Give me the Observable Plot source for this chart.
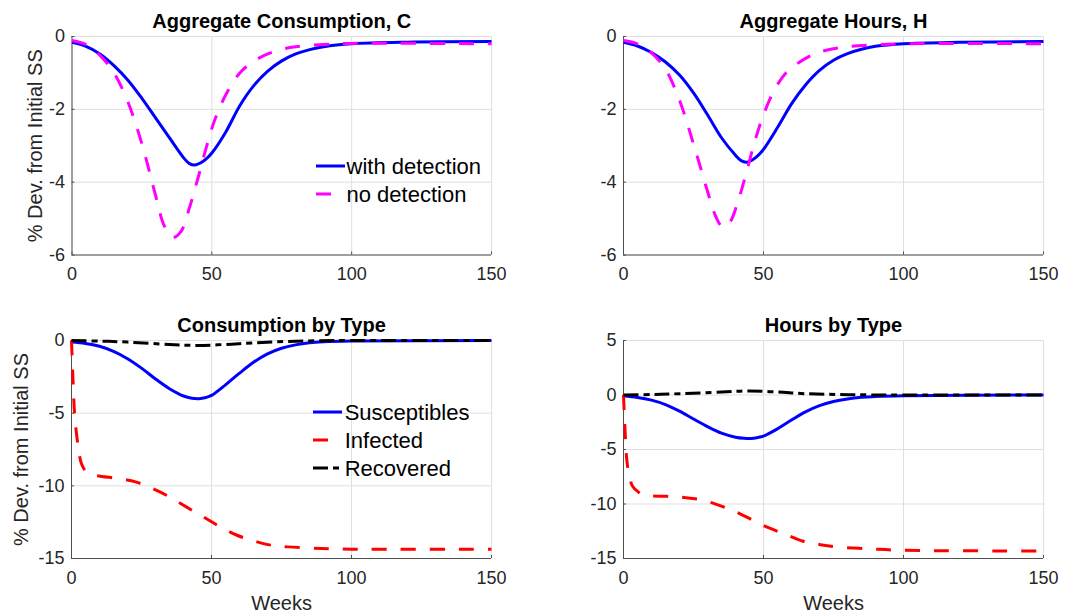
<!DOCTYPE html>
<html><head><meta charset="utf-8">
<script src="https://cdn.jsdelivr.net/npm/d3@7"></script>
<script src="https://cdn.jsdelivr.net/npm/@observablehq/plot@0.6"></script>
<style>
body{margin:0;background:#fff;}
#chart{position:relative;width:1065px;height:615px;font-family:"Liberation Sans",Arial,Helvetica,sans-serif;overflow:hidden;}
.panel{position:absolute;}
.panel svg{max-width:none !important;}
.legend{position:absolute;}
</style></head><body><div id="chart"></div>
<script>
// ---- tick labels / axes ----
const xTicks = [0, 50, 100, 150];
const xDomain = [0, 150];
const aggYTicks = [-6, -4, -2, 0];
const cTypeYTicks = [-15, -10, -5, 0];
const hTypeYTicks = [-15, -10, -5, 0, 5];

// ---- Aggregate Consumption, C ----
const aggCWithWeeks = [0, 5, 10, 15, 20, 25, 30, 35, 40, 42, 44, 46, 48, 50, 55, 60, 65, 70, 75, 80, 85, 90, 100, 120, 150];
const aggCWith = [-0.16, -0.27, -0.48, -0.8, -1.2, -1.7, -2.25, -2.8, -3.34, -3.49, -3.53, -3.47, -3.36, -3.2, -2.62, -1.9, -1.35, -0.95, -0.67, -0.48, -0.36, -0.28, -0.2, -0.155, -0.14];
const aggCNoWeeks = [0, 5, 10, 15, 20, 25, 30, 33, 36, 39, 42, 45, 48, 51, 55, 60, 65, 70, 75, 80, 90, 100, 150];
const aggCNo = [-0.11, -0.22, -0.52, -1.0, -1.8, -2.95, -4.4, -5.2, -5.52, -5.35, -4.7, -3.9, -3.05, -2.3, -1.6, -1.0, -0.68, -0.48, -0.35, -0.28, -0.22, -0.19, -0.2];

// ---- Aggregate Hours, H ----
const aggHWithWeeks = [0, 5, 10, 15, 20, 25, 30, 35, 40, 42, 44, 46, 48, 50, 55, 60, 65, 70, 75, 80, 85, 90, 100, 120, 150];
const aggHWith = [-0.16, -0.26, -0.44, -0.7, -1.06, -1.55, -2.15, -2.78, -3.26, -3.41, -3.45, -3.39, -3.27, -3.1, -2.5, -1.85, -1.33, -0.93, -0.65, -0.47, -0.35, -0.27, -0.2, -0.16, -0.14];
const aggHNoWeeks = [0, 5, 10, 15, 20, 25, 30, 33, 35.5, 38, 41, 44, 47, 50, 54, 58, 62, 66, 70, 76, 85, 100, 150];
const aggHNo = [-0.11, -0.2, -0.45, -0.9, -1.75, -2.95, -4.25, -4.95, -5.24, -5.1, -4.5, -3.7, -2.85, -2.15, -1.45, -1.0, -0.75, -0.56, -0.43, -0.32, -0.25, -0.2, -0.2];

// ---- Consumption by Type ----
const cSusWeeks = [0, 5, 10, 15, 20, 25, 30, 35, 40, 43, 45.5, 48, 50, 55, 60, 65, 70, 75, 80, 85, 90, 100, 150];
const cSus = [-0.11, -0.2, -0.4, -0.75, -1.25, -1.9, -2.65, -3.32, -3.82, -3.97, -4.0, -3.92, -3.78, -3.05, -2.25, -1.5, -0.92, -0.53, -0.3, -0.16, -0.09, -0.04, 0];
const cInfWeeks = [0, 0.6, 1.2, 2.4, 3.6, 5.4, 8.4, 16.9, 22.9, 29, 35, 41, 47.1, 53.1, 59.1, 65.2, 71.2, 77.2, 89.3, 100, 150];
const cInf = [0, -3, -5.3, -7.3, -8.5, -9.05, -9.27, -9.5, -9.73, -10.19, -10.76, -11.45, -12.14, -12.82, -13.4, -13.79, -14.08, -14.2, -14.31, -14.36, -14.36];
const cRecWeeks = [0, 10, 20, 35, 45, 55, 65, 80, 100, 150];
const cRec = [0, -0.04, -0.11, -0.27, -0.34, -0.27, -0.16, -0.05, 0, 0];

// ---- Hours by Type ----
const hSusWeeks = [0, 5, 10, 15, 20, 25, 30, 35, 40, 43, 45.5, 48, 50, 55, 60, 65, 70, 75, 80, 85, 90, 100, 150];
const hSus = [-0.1, -0.22, -0.47, -0.88, -1.48, -2.2, -2.9, -3.5, -3.87, -3.97, -3.99, -3.9, -3.77, -3.1, -2.3, -1.55, -0.98, -0.6, -0.36, -0.21, -0.13, -0.06, 0];
const hInfWeeks = [0, 0.6, 1.2, 2.1, 3.3, 5.1, 6.9, 15.5, 21.6, 27.6, 33.7, 39.8, 45.9, 52, 58, 64.2, 70.3, 76.3, 88.5, 100, 150];
const hInf = [0, -3.5, -6, -7.5, -8.4, -8.86, -9.16, -9.3, -9.4, -9.6, -10.08, -10.68, -11.45, -12.2, -12.8, -13.42, -13.73, -13.94, -14.12, -14.25, -14.3];
const hRecWeeks = [0, 10, 20, 35, 45, 55, 65, 80, 100, 150];
const hRec = [0, 0.04, 0.12, 0.27, 0.37, 0.27, 0.12, 0.03, 0, 0];

// ---- styles ----
const BLUE = "#0000ff", MAGENTA = "#ff00ff", RED = "#ff0000", BLACK = "#000000";
const DASH = "15,14", DASHDOT = "15,5,6,5";
const GRID = "#dfdfdf", AXIS = "#505050", TEXT = "#262626";
const FONT = "Liberation Sans, Arial, Helvetica, sans-serif";

const rows = (w, v) => w.map((d, i) => ({week: d, value: v[i]}));
const chart = document.getElementById("chart");

function panel(o) {
  const innerW = o.width - o.ml - o.mr;
  const innerH = o.height - o.mt - o.mb;
  const marks = [
    Plot.gridX(xTicks, {stroke: GRID, strokeOpacity: 1}),
    Plot.gridY(o.yTicks, {stroke: GRID, strokeOpacity: 1}),
    Plot.ruleX([xDomain[0]], {stroke: AXIS}),
    Plot.ruleY([o.yDomain[0]], {stroke: AXIS}),
    Plot.tickX(xTicks, {x: d => d, insetTop: innerH - 3, stroke: AXIS}),
    Plot.tickY(o.yTicks, {y: d => d, insetRight: innerW - 3, stroke: AXIS}),
    Plot.axisX({ticks: xTicks, tickSize: 0, tickPadding: 12.5, tickFormat: d => String(d), fontSize: 18, color: TEXT, label: null}),
    Plot.axisY({ticks: o.yTicks, tickSize: 0, tickPadding: 7, tickFormat: d => String(d), fontSize: 18, color: TEXT, label: null}),
    ...o.series.map(s => Plot.line(s.data, {x: "week", y: "value", stroke: s.color, strokeWidth: 3,
      strokeDasharray: s.dash, strokeLinecap: "butt", strokeLinejoin: "round", curve: "catmull-rom"})),
    Plot.text([o.title], {frameAnchor: "top", dy: -8.5, lineAnchor: "bottom", fontSize: 20, fontWeight: "bold", fill: "black"})
  ];
  if (o.yLabel) marks.push(Plot.text([o.yLabel], {frameAnchor: "left", rotate: -90, dx: o.yLabelDx, lineAnchor: "top", textAnchor: "middle", fontSize: 20, fill: TEXT}));
  if (o.xLabel) marks.push(Plot.text([o.xLabel], {frameAnchor: "bottom", dy: 51, lineAnchor: "bottom", fontSize: 20, fill: TEXT}));
  const svg = Plot.plot({
    width: o.width, height: o.height,
    marginLeft: o.ml, marginRight: o.mr, marginTop: o.mt, marginBottom: o.mb,
    x: {domain: xDomain},
    y: {domain: o.yDomain},
    style: {fontFamily: FONT, background: "transparent", overflow: "visible"},
    marks
  });
  const div = document.createElement("div");
  div.className = "panel";
  div.style.left = o.left + "px"; div.style.top = o.top + "px";
  div.appendChild(svg);
  chart.appendChild(div);
}

function legend(left, top, items) {
  const rowH = 28;
  const div = d3.select(chart).append("div").attr("class", "legend")
    .style("left", left + "px").style("top", top + "px");
  const svg = div.append("svg").attr("width", 190).attr("height", rowH * items.length + 10)
    .style("overflow", "visible");
  items.forEach((it, i) => {
    const y = 14 + i * rowH;
    svg.append("line").attr("x1", 0).attr("x2", 29).attr("y1", y).attr("y2", y)
      .attr("stroke", it.color).attr("stroke-width", 3).attr("stroke-dasharray", it.dash || null);
    svg.append("text").attr("x", it.tx).attr("y", y + 8).text(it.label)
      .attr("font-family", FONT).attr("font-size", 22).attr("fill", "black");
  });
}

panel({left: 0, top: 0, width: 532, height: 300, ml: 71.5, mr: 41, mt: 36, mb: 45.5,
  yDomain: [-6, 0], yTicks: aggYTicks, title: "Aggregate Consumption, C",
  yLabel: "% Dev. from Initial SS", yLabelDx: -44.5,
  series: [
    {data: rows(aggCWithWeeks, aggCWith), color: BLUE},
    {data: rows(aggCNoWeeks, aggCNo), color: MAGENTA, dash: DASH}
  ]});
panel({left: 532, top: 0, width: 533, height: 300, ml: 91, mr: 22, mt: 36, mb: 45.5,
  yDomain: [-6, 0], yTicks: aggYTicks, title: "Aggregate Hours, H",
  series: [
    {data: rows(aggHWithWeeks, aggHWith), color: BLUE},
    {data: rows(aggHNoWeeks, aggHNo), color: MAGENTA, dash: DASH}
  ]});
panel({left: 0, top: 300, width: 532, height: 315, ml: 71, mr: 41, mt: 40, mb: 57,
  yDomain: [-15, 0], yTicks: cTypeYTicks, title: "Consumption by Type",
  yLabel: "% Dev. from Initial SS", yLabelDx: -57.5, xLabel: "Weeks",
  series: [
    {data: rows(cSusWeeks, cSus), color: BLUE},
    {data: rows(cInfWeeks, cInf), color: RED, dash: DASH},
    {data: rows(cRecWeeks, cRec), color: BLACK, dash: DASHDOT}
  ]});
panel({left: 532, top: 300, width: 533, height: 315, ml: 91, mr: 22, mt: 40, mb: 57,
  yDomain: [-15, 5], yTicks: hTypeYTicks, title: "Hours by Type", xLabel: "Weeks",
  series: [
    {data: rows(hSusWeeks, hSus), color: BLUE},
    {data: rows(hInfWeeks, hInf), color: RED, dash: DASH},
    {data: rows(hRecWeeks, hRec), color: BLACK, dash: DASHDOT}
  ]});

legend(316, 152, [
  {label: "with detection", color: BLUE, tx: 30.5},
  {label: "no detection", color: MAGENTA, dash: DASH, tx: 30.5}
]);
legend(313.3, 397.7, [
  {label: "Susceptibles", color: BLUE, tx: 31.7},
  {label: "Infected", color: RED, dash: DASH, tx: 31.7},
  {label: "Recovered", color: BLACK, dash: DASHDOT, tx: 31.7}
]);
</script></body></html>
